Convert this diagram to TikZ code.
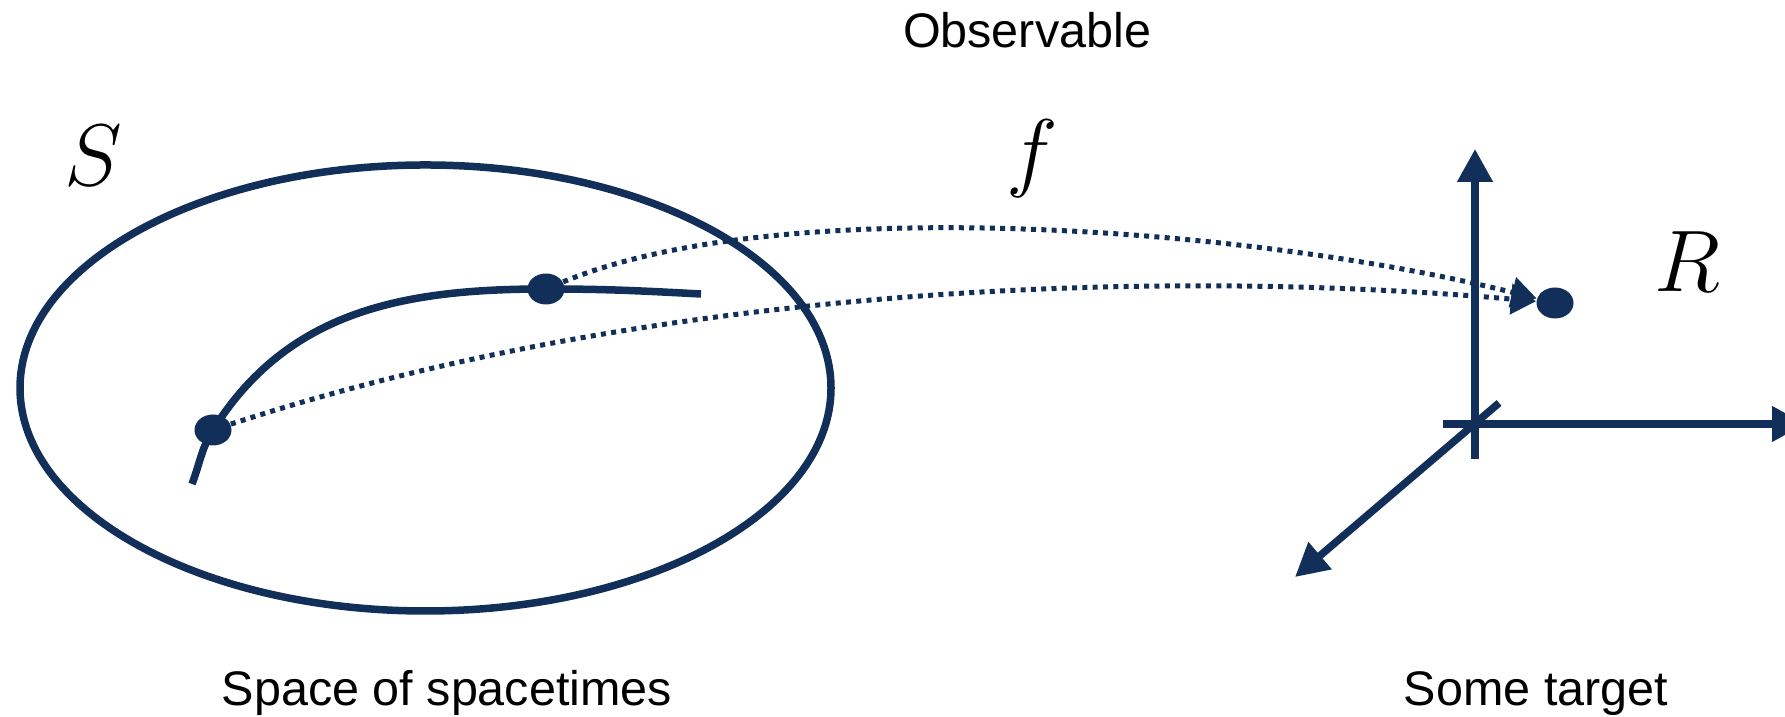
\documentclass[tikz,border=0pt]{standalone}
\usepackage{fontspec}
\setmainfont{Liberation Sans}
\usepackage{amsmath}
\usetikzlibrary{
  arrows.meta,
  positioning,
  shapes.geometric
}
\definecolor{navy}{RGB}{17,47,88}

\begin{document}
\begin{tikzpicture}[
      pt/.style={ellipse, fill=navy, inner sep=0pt,
                 minimum width=3.7mm, minimum height=3.1mm},
      rim/.style={draw=navy, line width=0.75mm},
      path1/.style={navy, line width=0.75mm},
      obs/.style={-{Triangle[length=2.5mm,width=3mm]}, navy,
                  line width=0.5mm, dash pattern=on 0.5mm off 0.53mm},
      axis/.style={-{Triangle[length=3.3mm,width=3.4mm]}, navy,
                   line width=0.75mm},
      lbl/.style={anchor=base, font=\fontsize{13.8}{16}\selectfont},
      sym/.style={anchor=base, font=\fontsize{31}{36}\selectfont}
  ]
      \useasboundingbox (0,0) rectangle (17.85,7.17);

      % Space S
      \coordinate (sc) at (4.255,3.29);
      \draw[rim] (sc) ellipse [x radius=4.055, y radius=2.23];

      \node[pt] (p1) at (2.13,2.87) {};
      \node[pt] (p2) at (5.46,4.28) {};
      \coordinate (c0) at (1.92,2.33);
      \coordinate (c1) at (7.01,4.23);
      \draw[path1] (c0) to[out=69,in=238] (p1.center)
          to[out=58,in=180] (p2.center) to[out=0,in=177] (c1);

      % Target R
      \coordinate (o)  at (14.75,2.93);
      \coordinate (yb) at (14.75,2.58);
      \coordinate (yt) at (14.75,5.68);
      \coordinate (xl) at (14.43,2.93);
      \coordinate (xr) at (18.05,2.93);
      \coordinate (zb) at (14.99,3.14);
      \coordinate (zt) at (12.95,1.40);
      \draw[axis] (yb) -- (yt);
      \draw[axis] (xl) -- (xr);
      \draw[axis] (zb) -- (zt);

      \node[pt] (tgt) at (15.55,4.14) {};

      % Observable f
      \draw[obs] (p2) .. controls (7.8,5.25) and (12.5,4.9) .. (tgt);
      \draw[obs] (p1) .. controls (6.5,4.3) and (11.5,4.5) .. (tgt);

      % Labels
      \node[sym] (S) at (0.93,5.31) {$S$};
      \node[sym] (f) at (10.32,5.36) {$f$};
      \node[sym] (R) at (16.87,4.25) {$R$};
      \node[lbl] (obsl) at (10.27,6.69) {Observable};
      \node[lbl] (spl)  at (4.47,0.11) {Space of spacetimes};
      \node[lbl] (tgl)  at (15.36,0.11) {Some target};
  \end{tikzpicture}
\end{document}
